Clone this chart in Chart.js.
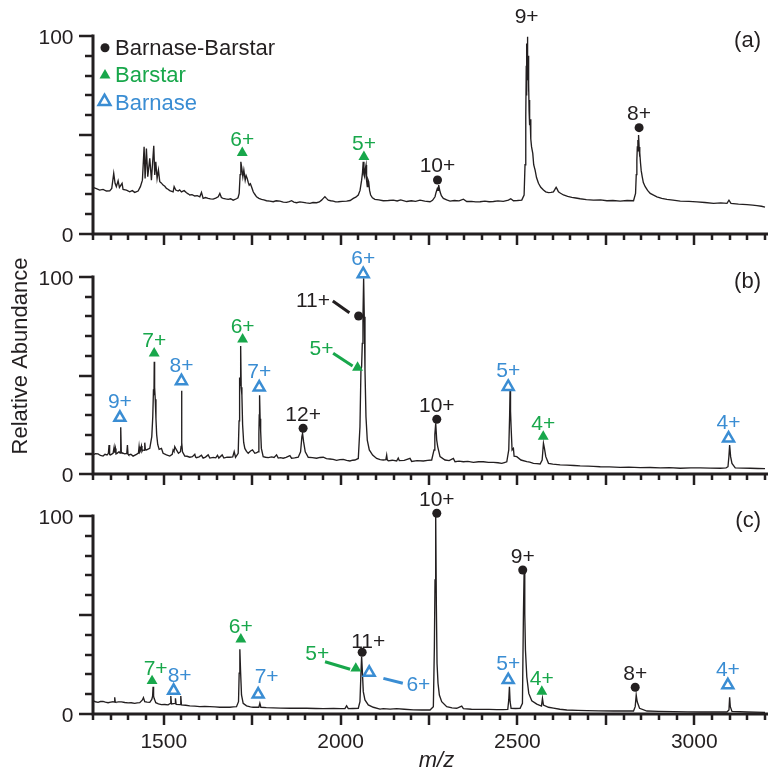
<!DOCTYPE html>
<html><head><meta charset="utf-8">
<script src="https://cdn.jsdelivr.net/npm/chart.js@4.4.1/dist/chart.umd.min.js"></script>
<style>
html,body{margin:0;padding:0;background:#fff;}
#wrap{position:relative;width:779px;height:779px;overflow:hidden;background:#fff;}
canvas{position:absolute;left:0;}
</style></head><body>
<div id="wrap">
<canvas id="ca" width="779" height="250" style="top:0px"></canvas>
<canvas id="cb" width="779" height="240" style="top:250px"></canvas>
<canvas id="cc" width="779" height="289" style="top:490px"></canvas>
</div>
<script>
// ---------- axis settings ----------
const X_MIN = 1300, X_MAX = 3200, X_MINOR = 50, X_MAJOR = 250;
const X_LABELS = [1500, 2000, 2500, 3000];
const Y_MIN = 0, Y_MAX = 100, Y_MINOR = 10, Y_MAJOR = 50;
const Y_LABELS = [0, 100];

// ---------- spectra: [m/z, relative abundance] ----------
const specA = [
[1300,23.5],[1309.6,22.9],[1319,22.2],[1328.4,22.5],[1337.9,21.7],[1347.3,21.8],[1353,23],[1358.6,30.6],[1362.4,25.6],[1366,23.9],[1371,26.9],[1374.7,23.5],[1382.2,25.6],[1385,22.5],[1394.5,22.2],[1404,21.3],[1411,21.9],[1418,21],[1427.5,21.7],[1434,23.9],[1439.7,27.2],[1444.5,44.1],[1447.3,28],[1451,43.2],[1454.8,28.9],[1460.5,38.2],[1465.2,27.2],[1471.8,44.6],[1474.6,29.8],[1477.5,36.5],[1481.2,28],[1485,32.3],[1488.8,26.4],[1493,25.8],[1498.2,24.7],[1503,24.1],[1507.7,23],[1512,22.6],[1517,21.9],[1526.5,21.3],[1529.4,23.9],[1534,22.2],[1540.7,21.7],[1545,22.3],[1550,21.3],[1557.7,21.9],[1564.3,20.8],[1569,20.3],[1573.7,19.7],[1580,19.9],[1587.8,19.2],[1595,19.4],[1602,18.8],[1606.7,21],[1611.4,18],[1618,18.4],[1625.6,18],[1632,17.7],[1639.7,17.6],[1647,18.1],[1654,18.8],[1658.6,20.5],[1663,18.4],[1668,18],[1675,17.7],[1682.2,17.5],[1689,17.8],[1696.3,17.1],[1705.7,17.8],[1710,18.3],[1713.3,20.5],[1716,30],[1718,36.5],[1720.8,33.1],[1723.7,28.9],[1726.5,32.3],[1730.3,27.2],[1733,29.5],[1736,28.1],[1739,26],[1741.6,24.7],[1745,25.4],[1748.2,23.9],[1753,21.3],[1757,20.2],[1762.4,18.8],[1769,18],[1776.5,17.5],[1783,17.2],[1790.6,16.8],[1800,16.6],[1809.5,16.3],[1818,16.8],[1828.4,16.6],[1838,16.1],[1847.2,16],[1855,16.4],[1861.4,16.8],[1868,16.1],[1875.6,15.8],[1885,16.2],[1894.4,16],[1903,15.7],[1913.3,15.5],[1922,15.9],[1932.1,15.8],[1940,16.2],[1946.3,17.1],[1951,18],[1955.7,18.8],[1960,18],[1965.2,17.1],[1972,16.8],[1979.3,16.6],[1986,16.2],[1993.5,16.3],[2005,16.5],[2017,16.6],[2027,16.9],[2036,18],[2043,18.6],[2050,19.7],[2055,22],[2059.5,27.2],[2062,31],[2064,36.5],[2066,30],[2068,28.9],[2070,33],[2072,34.8],[2073.5,27],[2075.5,23.9],[2077.5,27.4],[2079.4,26.4],[2082,22],[2085,19.7],[2090,18.3],[2097,17.5],[2108,17.2],[2120.7,16.8],[2135,16.9],[2149.1,17.1],[2160,16.7],[2170,17.2],[2186.9,16.4],[2200,16.8],[2212,16.5],[2224.6,17.1],[2238,16.6],[2252.9,16.3],[2260,17],[2267,18.8],[2270,21],[2273.6,23],[2275.5,22],[2277.4,24.7],[2281.2,21.3],[2285,19.3],[2290.6,18],[2300,17.2],[2309.5,16.6],[2322,16.9],[2335,16.7],[2347.2,17.6],[2356.7,16.4],[2370,16.5],[2382,16.2],[2394.4,16.3],[2408,16.6],[2420,16.3],[2432.1,16.4],[2445,16.7],[2460,16.5],[2474.6,17.1],[2481.2,17.8],[2488.7,16.8],[2500,16.9],[2512.3,17.1],[2518.9,19.7],[2521.5,35],[2523.6,59.2],[2525,85],[2525.8,70],[2526.5,96.2],[2527.3,78],[2528.3,99.6],[2529.2,82],[2530,90],[2531.2,72],[2532.2,76],[2533,62],[2534,67.7],[2535,55],[2536,58],[2537.8,48],[2540,44],[2543.4,40.7],[2546,35],[2550,32.3],[2554,28.5],[2559.5,25.6],[2566,23.6],[2573.6,22.2],[2580,21.3],[2587.8,20.9],[2595,21],[2601.9,21.3],[2606,22.5],[2609.5,23.6],[2612,22.8],[2616,21.3],[2622,20.6],[2630.2,19.7],[2642,19],[2653.8,18.5],[2665,18.2],[2677.4,17.8],[2695,17.4],[2715,17.1],[2735,17.2],[2752.9,16.8],[2770,16.9],[2790.6,16.6],[2810,16.9],[2828.3,16.8],[2834,20.5],[2836,30],[2837.7,37.4],[2839,44],[2840.6,47.5],[2841.5,42],[2842.5,50],[2844,44],[2845.3,39.1],[2846.5,41],[2848.1,35.7],[2850,32],[2852.8,29],[2856,26],[2861.3,23.9],[2868,22],[2875.5,20.5],[2885,19.6],[2894.3,18.8],[2908,18],[2922.6,17.5],[2940,17.1],[2960.4,16.6],[2985,16.5],[3007.5,16.2],[3030,15.9],[3054.7,15.5],[3075,15.7],[3092.5,15.5],[3098.1,17.1],[3103.8,15.5],[3125,15.1],[3149.1,14.8],[3165,14.6],[3177.3,14.3],[3190,14],[3200,13.6]
];
const specB = [
[1300,9.7],[1307,10.3],[1314.3,10.2],[1321,9.4],[1328.4,9.1],[1334,10],[1339.8,9.7],[1343.5,10.5],[1345.4,14.7],[1347,9.9],[1349.2,9.7],[1356.7,10.5],[1359.6,13.5],[1361,10.8],[1363.3,13],[1365,10.2],[1368,10.5],[1373.7,11.3],[1376.5,10.6],[1378.4,23.7],[1380,11],[1381.3,10.8],[1389.7,10.2],[1395.5,10.4],[1397.3,14.7],[1399,10.1],[1401,9.7],[1407,10],[1413.3,9.1],[1422.8,10],[1428.5,10.6],[1430.3,13.9],[1432,11],[1433.1,11.3],[1436.9,14.2],[1438.5,11.5],[1440.7,12.2],[1444.5,12],[1446.3,15.9],[1448,12.5],[1451,12.2],[1460.5,13],[1466.2,19],[1469,29.1],[1471,43],[1472.4,40],[1473.2,57],[1474.2,44],[1476,38],[1478,28],[1480,20],[1483,15],[1487,12.5],[1493.5,13],[1498.2,10.5],[1507.7,9.7],[1517.1,9.1],[1524,10],[1526.5,12.2],[1529,11.5],[1531.2,13.9],[1536,12.2],[1541.6,10.5],[1547.3,11.3],[1549,14],[1550.2,42.3],[1551.5,16],[1553,11.3],[1559.5,9.1],[1566,9],[1573.7,8.5],[1581,8.8],[1587.8,10],[1590,8.6],[1592.5,8.3],[1600,8.7],[1606.7,9.5],[1611.4,8.1],[1618,8.6],[1625.6,9.7],[1630.3,8.1],[1640,8.4],[1647,8.2],[1652,9.5],[1655.8,8.1],[1665.2,9.7],[1670,8.1],[1679,8.6],[1687,8.5],[1695,8.7],[1699.2,11.3],[1703,8.5],[1710.5,10.5],[1713,27],[1714.5,49],[1716,45],[1717.5,65],[1719,44],[1721,40],[1723,25],[1726,16],[1729.3,13],[1734,11.5],[1738.8,10.5],[1745.4,11.7],[1751,12.2],[1757.6,10.5],[1763,10.8],[1767,11.3],[1769,20],[1770,30],[1771,40],[1772.5,28],[1774,22],[1776,13],[1781.2,8.8],[1788,8.5],[1795.4,8.3],[1805,8.7],[1812,8.4],[1819,9.7],[1823.7,8.1],[1830,8.3],[1837.8,8],[1846,8.4],[1856.7,9.3],[1861.4,8],[1870,8.2],[1880.3,8.5],[1886.9,11.3],[1890.6,19],[1892.5,20.6],[1895.4,16.4],[1900.1,11.3],[1908.6,8.5],[1920,8.3],[1932.2,8],[1942,8.4],[1951,8.5],[1960,7.8],[1969.9,7.6],[1979,7.4],[1988.8,6.9],[1998,7.3],[2007.6,7.4],[2017,6.9],[2026.5,6.6],[2034,7],[2040.6,7.1],[2050.1,7.9],[2054.8,24],[2057.6,52.8],[2059.5,54.5],[2061.4,66.3],[2063.3,79.8],[2065.2,99.3],[2067,79.8],[2069,52.8],[2071.8,29.1],[2075.5,17.2],[2081.2,12.2],[2090.6,9.6],[2101.9,7.9],[2112,7.3],[2120.8,7.1],[2128,7.3],[2130.3,9.6],[2132,7.2],[2135,6.7],[2146,7],[2158.6,6.6],[2163,8.1],[2166,6.8],[2180,6.9],[2196.3,7.9],[2201,6.4],[2216,6.8],[2234,6.6],[2246,6.9],[2257.6,7.1],[2264.2,12.2],[2266.5,20],[2269,25.7],[2271.8,17.2],[2274.6,13.9],[2281.2,8.8],[2295.3,7.1],[2307,6.8],[2318.9,7.9],[2323.6,6.2],[2335,6.5],[2347.2,6.2],[2360,6.4],[2375.5,5.9],[2390,6.2],[2403.8,6.2],[2418,5.9],[2432.1,5.9],[2445,5.7],[2455.7,5.4],[2463,5.8],[2469.9,6.2],[2475.5,12.2],[2478,30],[2479.3,43.5],[2480.5,32],[2482.1,24],[2484.9,12.2],[2488.7,13],[2490.6,9],[2498.2,8.8],[2510,7.1],[2526.5,6.3],[2535,6],[2545.3,5.4],[2555,5.3],[2564.2,5.1],[2569.9,7.1],[2573.6,15.6],[2576.4,13],[2580.2,8.8],[2587.8,5.4],[2600,5],[2620.8,4.6],[2640,4.5],[2660,4.3],[2677.4,4.1],[2700,4],[2715,3.9],[2734,3.7],[2760,3.6],[2790.6,3.4],[2815,3.5],[2847.2,3.2],[2875,3.3],[2903.8,3.1],[2930,3.2],[2960.4,2.9],[2990,3.1],[3017,3.1],[3045,3],[3073.6,2.9],[3090,3.1],[3095.3,3.7],[3098,9],[3100,14.7],[3102.8,8.8],[3106.6,5.4],[3115.9,3.1],[3135,3],[3158.3,2.9],[3180,2.8],[3200,2.7]
];
const specC = [
[1300,6.6],[1307,6.2],[1314.3,5.9],[1321,6.3],[1328.4,6.4],[1335,6],[1342.6,5.7],[1350,6],[1356.7,6.2],[1359.5,6],[1361.4,8.4],[1363,6],[1364.3,5.9],[1372,6.1],[1380.3,6.1],[1390,5.8],[1399.2,5.6],[1408,5.7],[1418,5.4],[1425,5.6],[1432.2,5.7],[1439.7,7.1],[1442.6,8.3],[1446.3,6.2],[1453,6],[1460.5,5.9],[1466.2,7.4],[1468.5,9],[1469.9,13.8],[1471.3,9],[1472.8,7.9],[1477.5,5.7],[1485,5.1],[1493.5,4.7],[1503,4.8],[1512.4,4.6],[1519,5.4],[1520,9.1],[1521.8,5.1],[1532.2,5.4],[1533.1,7.9],[1535,4.9],[1546.3,4.7],[1548.2,9.1],[1550.1,4.6],[1562,4.4],[1573.7,4.1],[1588,4],[1602,3.7],[1616,3.8],[1630.3,3.7],[1645,3.6],[1658.6,3.4],[1672,3.5],[1686.9,3.4],[1697,3.6],[1705.7,3.7],[1711.4,6.2],[1713.3,20.6],[1715.2,32.7],[1717.1,22.2],[1719.9,9.6],[1724.6,5.4],[1734.1,4.1],[1745,3.6],[1752.9,3.4],[1769,3.4],[1771.8,5.4],[1774.6,3.4],[1790,3.2],[1809.5,3.1],[1830,3],[1856.7,2.9],[1880,2.9],[1903.8,2.9],[1930,2.8],[1951,2.7],[1980,2.8],[2000,2.7],[2012.3,2.7],[2017,4.1],[2021.8,2.7],[2035,2.8],[2050.1,2.9],[2054.8,6.2],[2057.6,20.6],[2059.5,29],[2061.4,22.2],[2064.2,11.3],[2068.9,7.1],[2078.3,4.6],[2092.5,3.4],[2111.4,2.5],[2120.8,2.7],[2140,2.5],[2158.5,2.7],[2180,2.4],[2205.7,2.1],[2230,2],[2252.9,2],[2262.3,3.7],[2265.2,34],[2267,67.7],[2268.9,101.4],[2270.8,55],[2272.7,25.6],[2275.5,15.5],[2279.3,9.6],[2285.9,6.2],[2300.1,3.7],[2315,3.1],[2328.4,2.9],[2342.5,4],[2347.2,2.7],[2370,2.4],[2394.4,2.3],[2420,2.3],[2441.6,2.2],[2460,2.2],[2472.7,2.3],[2475.5,7.1],[2477.4,13.8],[2479.3,6.2],[2482.1,2.9],[2495,2.8],[2507.6,2.9],[2514.2,5.4],[2517,50.8],[2518.9,71.9],[2520.8,50.8],[2522.7,32.3],[2526.5,18.8],[2532.1,10.4],[2540.6,6.7],[2554.8,5],[2568,4],[2570.8,7.9],[2573.6,4.5],[2587.8,3.4],[2601.9,3],[2620,2.4],[2639.6,2],[2670,1.8],[2696.3,1.7],[2730,1.6],[2771.7,1.5],[2800,1.5],[2828.3,1.5],[2833,3.7],[2835.9,9.6],[2838.7,6.2],[2845.3,2.9],[2866.1,1.5],[2900,1.3],[2941.5,1.2],[2980,1.1],[3017,1],[3060,1],[3092.4,1],[3098.1,2],[3100,8.4],[3101.9,3.7],[3106.6,1.3],[3150,1],[3200,0.8]
];

// ---------- assigned peaks: m/z, abundance of marker, charge label ----------
// lx/ly: label position (data units) when moved off the peak; lead: leader line [x1,y1,x2,y2]
const complexA = [
  {mz: 2274, ab: 27.3, t: '10+'},
  {mz: 2526, ab: 103, t: '9+'},
  {mz: 2844, ab: 53.7, t: '8+'}
];
const barstarA = [
  {mz: 1722, ab: 41, t: '6+'},
  {mz: 2066, ab: 39, t: '5+'}
];
const barnaseA = [];

const complexB = [
  {mz: 1894, ab: 23.2, t: '12+'},
  {mz: 2051, ab: 80.2, t: '11+', lx: 1922, ly: 88.7, lead: [1978, 87.8, 2025, 81.9]},
  {mz: 2272, ab: 27.8, t: '10+'}
];
const barstarB = [
  {mz: 1473, ab: 61.3, t: '7+'},
  {mz: 1723, ab: 68.4, t: '6+'},
  {mz: 2048, ab: 54, t: '5+', lx: 1946, ly: 64.3, lead: [1979, 61.3, 2034, 54.8]},
  {mz: 2573, ab: 19, t: '4+'}
];
const barnaseB = [
  {mz: 1376, ab: 28.6, t: '9+'},
  {mz: 1550, ab: 47.2, t: '8+'},
  {mz: 1770, ab: 44, t: '7+'},
  {mz: 2064, ab: 101.5, t: '6+'},
  {mz: 2474, ab: 44.3, t: '5+'},
  {mz: 3097, ab: 18.1, t: '4+'}
];

const complexC = [
  {mz: 2061, ab: 31.2, t: '11+', lx: 2078, ly: 37},
  {mz: 2272, ab: 101.4, t: '10+'},
  {mz: 2515, ab: 72.7, t: '9+'},
  {mz: 2833, ab: 13.5, t: '8+'}
];
const barstarC = [
  {mz: 1467, ab: 16.7, t: '7+', lx: 1477, ly: 23.6},
  {mz: 1718, ab: 37.7, t: '6+'},
  {mz: 2043, ab: 23, t: '5+', lx: 1934, ly: 31, lead: [1956, 26.4, 2027, 22.6]},
  {mz: 2569, ab: 11.3, t: '4+'}
];
const barnaseC = [
  {mz: 1528, ab: 11.8, t: '8+', lx: 1545, ly: 19.7},
  {mz: 1767, ab: 9.9, t: '7+', lx: 1791, ly: 19.2},
  {mz: 2081, ab: 20.9, t: '6+', lx: 2220, ly: 15.5, lead: [2121, 18, 2176, 15.5]},
  {mz: 2474, ab: 17.2, t: '5+'},
  {mz: 3095, ab: 14.6, t: '4+'}
];

const legendNames = ['Barnase-Barstar', 'Barstar', 'Barnase'];
const panelTags = ['(a)', '(b)', '(c)'];
const yTitle = 'Relative Abundance';
const xTitle = 'm/z';

// ---------- styles ----------
const INK = '#231f20', GREEN = '#18a74b', BLUE = '#3a8dd3';
const FONT = '"Liberation Sans", Arial, Helvetica, sans-serif';
Chart.defaults.font.family = FONT;
Chart.defaults.color = INK;

const KINDS = {
  complex: {color: INK, ds: {pointStyle: 'circle', pointRadius: 4.5, pointBackgroundColor: INK, pointBorderColor: INK, pointBorderWidth: 0}, off: 15},
  barstar: {color: GREEN, ds: {pointStyle: 'triangle', pointRadius: 6.3, pointBackgroundColor: GREEN, pointBorderColor: GREEN, pointBorderWidth: 0}, off: 14},
  barnase: {color: BLUE, ds: {pointStyle: 'triangle', pointRadius: 6.3, pointBackgroundColor: '#ffffff', pointBorderColor: BLUE, pointBorderWidth: 2.5}, off: 17}
};

const PANELS = {
  ca: {spec: specA, marks: {complex: complexA, barstar: barstarA, barnase: barnaseA}, tag: panelTags[0], top: 36, xh: 16, xlabels: false, legend: true},
  cb: {spec: specB, marks: {complex: complexB, barstar: barstarB, barnase: barnaseB}, tag: panelTags[1], top: 27, xh: 16, xlabels: false, ytitle: true},
  cc: {spec: specC, marks: {complex: complexC, barstar: barstarC, barnase: barnaseC}, tag: panelTags[2], top: 26, xh: 65, xlabels: true, xtitle: true}
};

function triPath(ctx, cx, cy, r) {
  ctx.beginPath();
  for (let k = 0; k < 3; k++) {
    const a = k * 2 * Math.PI / 3;
    const px = cx + Math.sin(a) * r, py = cy - Math.cos(a) * r;
    if (k === 0) ctx.moveTo(px, py); else ctx.lineTo(px, py);
  }
  ctx.closePath();
}

const decor = {
  id: 'decor',
  afterDraw(chart) {
    const P = PANELS[chart.canvas.id];
    const ctx = chart.ctx, ca = chart.chartArea, xs = chart.scales.x, ys = chart.scales.y;
    ctx.save();
    // ticks
    ctx.strokeStyle = INK; ctx.lineWidth = 2.5; ctx.lineCap = 'butt';
    ctx.beginPath();
    for (let v = Y_MIN; v <= Y_MAX; v += Y_MINOR) {
      const p = Math.round(ys.getPixelForValue(v));
      const L = (v % Y_MAJOR === 0) ? 14 : 8;
      ctx.moveTo(ca.left - L, p); ctx.lineTo(ca.left, p);
    }
    for (let v = X_MIN; v <= X_MAX; v += X_MINOR) {
      const p = Math.round(xs.getPixelForValue(v));
      const L = (v % X_MAJOR === 0) ? 11 : 6;
      ctx.moveTo(p, ca.bottom); ctx.lineTo(p, ca.bottom + L);
    }
    ctx.stroke();
    // axis lines
    ctx.lineWidth = 3;
    ctx.beginPath();
    ctx.moveTo(ca.left, ca.top - 1.5); ctx.lineTo(ca.left, ca.bottom); ctx.lineTo(ca.right + 3, ca.bottom);
    ctx.stroke();

    // tick labels
    ctx.fillStyle = INK;
    ctx.font = '21px ' + FONT;
    ctx.textAlign = 'right'; ctx.textBaseline = 'alphabetic';
    for (const v of Y_LABELS) ctx.fillText(String(v), ca.left - 19.5, ys.getPixelForValue(v) + 7.5);
    if (P.xlabels) {
      ctx.textAlign = 'center';
      for (const v of X_LABELS) ctx.fillText(String(v), xs.getPixelForValue(v), ca.bottom + 34.3);
    }

    // peak labels and leaders
    ctx.textAlign = 'center';
    for (const kind of Object.keys(P.marks)) {
      const K = KINDS[kind];
      for (const m of P.marks[kind]) {
        const mx = xs.getPixelForValue(m.mz), my = ys.getPixelForValue(m.ab);
        let lx = mx, ly = my - K.off;
        if (m.lx !== undefined) { lx = xs.getPixelForValue(m.lx); ly = ys.getPixelForValue(m.ly); }
        ctx.fillStyle = K.color;
        ctx.fillText(m.t, lx, ly + 7.5);
        if (m.lead) {
          ctx.strokeStyle = K.color; ctx.lineWidth = 3;
          ctx.beginPath();
          ctx.moveTo(xs.getPixelForValue(m.lead[0]), ys.getPixelForValue(m.lead[1]));
          ctx.lineTo(xs.getPixelForValue(m.lead[2]), ys.getPixelForValue(m.lead[3]));
          ctx.stroke();
        }
      }
    }

    // panel tag
    ctx.fillStyle = INK; ctx.textAlign = 'right';
    ctx.font = '22px ' + FONT;
    ctx.fillText(P.tag, 761, ca.top + 11);

    // legend
    if (P.legend) {
      const lx = ca.left + 12, tx = ca.left + 22;
      ctx.textAlign = 'left';
      ctx.fillStyle = INK;
      ctx.beginPath(); ctx.arc(lx, ca.top + 11.7, 4.5, 0, Math.PI * 2); ctx.fill();
      ctx.fillText(legendNames[0], tx, ca.top + 19);
      ctx.fillStyle = GREEN;
      triPath(ctx, lx, ca.top + 39.3, 6.3); ctx.fill();
      ctx.fillText(legendNames[1], tx, ca.top + 45.5);
      ctx.fillStyle = '#fff'; ctx.strokeStyle = BLUE; ctx.lineWidth = 2.5;
      triPath(ctx, lx - 0.5, ca.top + 65.5, 6.8); ctx.fill(); ctx.stroke();
      ctx.fillStyle = BLUE;
      ctx.fillText(legendNames[2], tx, ca.top + 73.5);
    }
    // y title
    if (P.ytitle) {
      ctx.save();
      ctx.translate(26.5, (ca.top + ca.bottom) / 2 - 19.5);
      ctx.rotate(-Math.PI / 2);
      ctx.textAlign = 'center'; ctx.fillStyle = INK;
      ctx.font = '22px ' + FONT;
      ctx.fillText(yTitle, 0, 0);
      ctx.restore();
    }
    if (P.xtitle) {
      ctx.textAlign = 'center'; ctx.fillStyle = INK;
      ctx.font = 'italic 22px ' + FONT;
      ctx.fillText(xTitle, (ca.left + ca.right) / 2 + 7.5, ca.bottom + 53);
    }
    ctx.restore();
  }
};

function makeChart(id) {
  const P = PANELS[id];
  const datasets = [];
  for (const kind of Object.keys(P.marks)) {
    const K = KINDS[kind];
    datasets.push(Object.assign({
      data: P.marks[kind].map(m => ({x: m.mz, y: m.ab})),
      showLine: false, clip: false, order: 0
    }, K.ds));
  }
  datasets.push({
    data: P.spec.map(p => ({x: p[0], y: p[1]})),
    borderColor: INK, borderWidth: 1.35, pointRadius: 0, tension: 0,
    clip: false, order: 10
  });
  return new Chart(document.getElementById(id), {
    type: 'line',
    data: {datasets},
    options: {
      responsive: false, animation: false, events: [],
      layout: {autoPadding: false, padding: {top: P.top, right: 14, left: 0, bottom: 0}},
      scales: {
        x: {
          type: 'linear', min: X_MIN, max: X_MAX,
          grid: {display: false}, border: {display: false},
          ticks: {display: false},
          afterFit: s => { s.height = P.xh; s.paddingLeft = 0; s.paddingRight = 0; }
        },
        y: {
          type: 'linear', min: Y_MIN, max: Y_MAX,
          grid: {display: false}, border: {display: false},
          ticks: {display: false},
          afterFit: s => { s.width = 93; s.paddingTop = 0; s.paddingBottom = 0; }
        }
      },
      plugins: {legend: {display: false}, tooltip: {enabled: false}}
    },
    plugins: [decor]
  });
}
makeChart('ca'); makeChart('cb'); makeChart('cc');
</script>
</body></html>
